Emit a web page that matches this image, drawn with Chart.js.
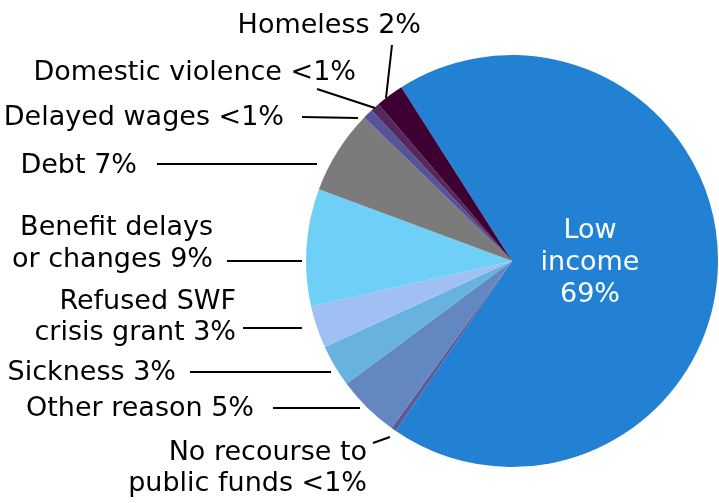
<!DOCTYPE html>
<html>
<head>
<meta charset="utf-8">
<script src="https://cdn.jsdelivr.net/npm/chart.js@4.4.1/dist/chart.umd.min.js"></script>
<style>
  html, body { margin: 0; padding: 0; background: #fff; }
  #wrap { width: 719px; height: 503px; position: relative; }
</style>
</head>
<body>
<div id="wrap"><canvas id="pie"></canvas></div>
<script>
// Reasons for food bank referral, share of all referrals (%)
const reasons = ['Low income', 'No recourse to public funds', 'Other reason', 'Sickness',
    'Refused SWF crisis grant', 'Benefit delays or changes', 'Debt', 'Delayed wages',
    'Domestic violence', 'Homeless'];
const shares = [68.5, 0.4, 4.9, 3.3, 3.3, 9.2, 6.6, 0.8, 0.7, 2.2];
const shareLabels = ['69%', '<1%', '5%', '3%', '3%', '9%', '7%', '<1%', '<1%', '2%'];
const sliceColors = ['#2381d3', '#5c5a98', '#6387c0', '#68b2e0', '#a0c0f3',
    '#6ed0f6', '#7b7b7b', '#545499', '#56295e', '#3e0033'];

// label text lines (baseline y) and leader positions, annotation layout only
const labelLayout = [
    { lines: ['Low', 'income', '69%'], x: 590, y: 238, gap: 32, align: 'center', color: '#fff' },
    { lines: ['No recourse to', 'public funds <1%'], x: 367, y: 460, gap: 31, line: [373, 443, 390, 437] },
    { lines: ['Other reason 5%'], x: 254, y: 416, line: [273, 408, 360, 408] },
    { lines: ['Sickness 3%'], x: 176, y: 380, line: [190, 372, 331, 372] },
    { lines: ['Refused SWF', 'crisis grant 3%'], x: 236, y: 309, gap: 31, line: [243, 328, 302, 328] },
    { lines: ['Benefit delays', 'or changes 9%'], x: 213, y: 235, gap: 32, line: [227, 261, 302, 261] },
    { lines: ['Debt 7%'], x: 137, y: 173, line: [157, 164, 317, 164] },
    { lines: ['Delayed wages <1%'], x: 284, y: 125, line: [302, 117, 358, 118] },
    { lines: ['Domestic violence <1%'], x: 356, y: 80, line: [317, 89, 375, 108] },
    { lines: ['Homeless 2%'], x: 421, y: 33, line: [392, 45, 386, 98] }
];

const labelPlugin = {
    id: 'pieLabels',
    afterDatasetsDraw(chart) {
        const ctx = chart.ctx;
        ctx.save();
        ctx.font = '27px "DejaVu Sans", sans-serif';
        ctx.textBaseline = 'alphabetic';
        labelLayout.forEach((lab) => {
            if (lab.line) {
                ctx.strokeStyle = '#000';
                ctx.lineWidth = 2;
                ctx.beginPath();
                ctx.moveTo(lab.line[0], lab.line[1]);
                ctx.lineTo(lab.line[2], lab.line[3]);
                ctx.stroke();
            }
            ctx.fillStyle = lab.color || '#000';
            ctx.textAlign = lab.align || 'right';
            lab.lines.forEach((t, i) => {
                ctx.fillText(t, lab.x, lab.y + i * (lab.gap || 32));
            });
        });
        ctx.restore();
    }
};

new Chart(document.getElementById('pie'), {
    type: 'pie',
    data: {
        labels: reasons.map((r, i) => r + ' ' + shareLabels[i]),
        datasets: [{
            data: shares,
            backgroundColor: sliceColors,
            borderWidth: 0
        }]
    },
    options: {
        responsive: true,
        maintainAspectRatio: false,
        animation: false,
        rotation: -32.5,
        layout: { padding: { left: 306, right: 1, top: 55, bottom: 36 } },
        plugins: {
            legend: { display: false },
            tooltip: { enabled: false }
        }
    },
    plugins: [labelPlugin]
});
</script>
</body>
</html>
